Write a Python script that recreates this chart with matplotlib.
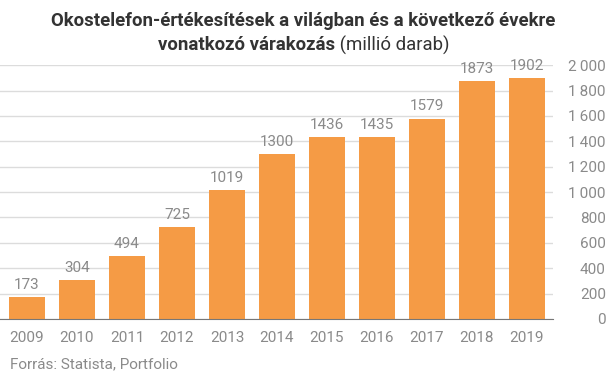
import matplotlib
matplotlib.use('Agg')
import matplotlib.pyplot as plt

plt.rcParams['font.family'] = ['Roboto', 'DejaVu Sans']

years = ['2009', '2010', '2011', '2012', '2013', '2014', '2015', '2016', '2017', '2018', '2019']
sales = [173, 304, 494, 725, 1019, 1300, 1436, 1435, 1579, 1873, 1902]
y_ticks = [0, 200, 400, 600, 800, 1000, 1200, 1400, 1600, 1800, 2000]

BAR = '#f59b45'
GRAY = '#8a8a8a'

fig = plt.figure(figsize=(6.07, 3.81), dpi=100)
ax = fig.add_axes([0.0, 0.163, 0.911, 0.666])

x = list(range(len(years)))
ax.bar(x, sales, width=0.72, color=BAR, zorder=2)
for xi, v in zip(x, sales):
    ax.text(xi, v + 40, str(v), ha='center', va='bottom', fontsize=11, color=GRAY)

ax.set_xlim(-0.54, 10.52)
ax.set_ylim(0, 2000)
ax.set_yticks(y_ticks)
ax.set_yticklabels([f"{t:,}".replace(',', '\u2009') for t in y_ticks])
ax.yaxis.tick_right()
ax.set_xticks(x)
ax.set_xticklabels(years)
ax.tick_params(axis='both', length=0, labelsize=11, colors=GRAY)
ax.tick_params(axis='y', pad=38)
ax.tick_params(axis='x', pad=9)
for lab in ax.get_yticklabels():
    lab.set_horizontalalignment('right')
ax.grid(axis='y', color='#dcdcdc', linewidth=1, zorder=0)
for s in ['top', 'right', 'left']:
    ax.spines[s].set_visible(False)
ax.spines['bottom'].set_color('#777777')
ax.spines['bottom'].set_zorder(3)

# title, second line is half bold half normal
fig.text(0.5, 0.945, 'Okostelefon-értékesítések a világban és a következő évekre',
         ha='center', va='center', fontsize=13.4, fontweight='bold', color='#333333')
r = fig.canvas.get_renderer()
t1 = fig.text(0, 0.882, 'vonatkozó várakozás', ha='left', va='center',
              fontsize=13.4, fontweight='bold', color='#333333')
t2 = fig.text(0, 0.882, ' (millió darab)', ha='left', va='center',
              fontsize=13.4, color='#333333')
w1 = t1.get_window_extent(r).width / fig.bbox.width
w2 = t2.get_window_extent(r).width / fig.bbox.width
start = 0.5 - (w1 + w2) / 2
t1.set_x(start)
t2.set_x(start + w1)

fig.text(0.016, 0.045, 'Forrás: Statista, Portfolio', ha='left', va='center',
         fontsize=11, color=GRAY)

fig.savefig('out.png', dpi=100)
